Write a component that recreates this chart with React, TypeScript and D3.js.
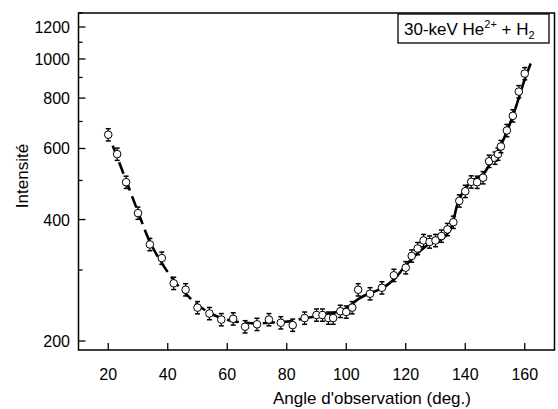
import React from "react";
import * as d3 from "d3";

// measured points (angle in deg., intensity)
const angles = [20, 23, 26, 30, 34, 38, 42, 46, 50, 54, 58, 62, 66, 70, 74, 78, 82, 86, 90, 92, 94, 95.6, 98, 100, 102, 104, 108, 112, 116, 120, 122, 124, 126, 128, 130, 132, 134, 136, 138, 140, 142, 144, 146, 148, 150, 151, 152, 154, 156, 158, 160];
const intensity = [649, 581, 495, 415, 347, 321, 278, 268, 242, 234, 226, 227, 217, 220, 226, 222, 219, 228, 232, 232, 228, 228, 237, 236, 242, 268, 262, 271, 291, 304, 325, 339, 355, 352, 355, 364, 378, 394, 445, 470, 496, 495, 508, 558, 568, 581, 607, 665, 723, 830, 920];
const relErr = 0.035;

// fitted curves
const dashX = [21.5, 26, 30, 34, 38, 42, 46, 50, 54, 58, 62, 66, 70, 74, 78, 82, 84];
const dashY = [610, 500, 418, 352, 312, 283, 262, 246, 235, 228, 224, 222, 221, 222, 223, 224, 226];
const solidX = [84, 88, 92, 96, 100, 104, 108, 112, 116, 120, 124, 128, 132, 135, 138, 142, 146, 148, 150, 152, 154, 156, 158, 160, 162];
const solidY = [226, 229, 232, 235, 241, 254, 263, 270, 284, 308, 330, 348, 357, 378, 450, 496, 518, 545, 575, 612, 662, 722, 800, 890, 975];

const yMajor = [200, 400, 600, 800, 1000, 1200];
const yMinor = [300, 500, 700, 900, 1100, 1300];
const xTicks = [20, 40, 60, 80, 100, 120, 140, 160];

const W = 558;
const H = 409;
const left = 78.5;
const right = 554.5;
const top = 13;
const bottom = 350;
const font = "'Liberation Sans', Arial, sans-serif";

export default function App() {
  const x = d3.scaleLinear().domain([10, 170]).range([left, right]);
  const y = d3.scaleLog().domain([190, 1300]).range([bottom, top]);

  const pts = angles.map((a, i) => ({ a, v: intensity[i] }));
  const line = d3
    .line<[number, number]>()
    .x((d) => x(d[0]))
    .y((d) => y(d[1]))
    .curve(d3.curveCatmullRom.alpha(0.5));
  const dashPath = line(dashX.map((v, i) => [v, dashY[i]]));
  const solidPath = line(solidX.map((v, i) => [v, solidY[i]]));

  return (
    <svg width={W} height={H} style={{ position: "absolute", left: 0, top: 0, background: "#fff" }}>
      <g fontFamily={font} fill="#000">
        {/* fit curves */}
        <path d={dashPath || ""} fill="none" stroke="#000" strokeWidth={2.6} strokeDasharray="12,6" />
        <path d={solidPath || ""} fill="none" stroke="#000" strokeWidth={2.6} />

        {/* points with error bars */}
        {pts.map((p, i) => {
          const cx = x(p.a);
          const y1 = y(p.v * (1 + relErr));
          const y2 = y(p.v * (1 - relErr));
          return (
            <g key={i}>
              <line x1={cx} x2={cx} y1={y1} y2={y2} stroke="#000" strokeWidth={1.2} />
              <line x1={cx - 2.5} x2={cx + 2.5} y1={y1} y2={y1} stroke="#000" strokeWidth={1.5} />
              <line x1={cx - 2.5} x2={cx + 2.5} y1={y2} y2={y2} stroke="#000" strokeWidth={1.5} />
              <circle cx={cx} cy={y(p.v)} r={3.8} fill="#fff" stroke="#000" strokeWidth={1} />
            </g>
          );
        })}

        {/* frame */}
        <rect x={left} y={top} width={right - left} height={bottom - top} fill="none" stroke="#000" strokeWidth={1.5} />

        {/* x ticks */}
        {xTicks.map((t) => (
          <g key={t}>
            <line x1={x(t)} x2={x(t)} y1={bottom} y2={bottom - 7} stroke="#000" strokeWidth={1.3} />
            <text x={x(t)} y={380} fontSize={16} textAnchor="middle">{t}</text>
          </g>
        ))}

        {/* y ticks */}
        {yMajor.map((t) => (
          <g key={t}>
            <line x1={left} x2={left + 7} y1={y(t)} y2={y(t)} stroke="#000" strokeWidth={1.3} />
            <text x={70} y={y(t) + 6} fontSize={16} textAnchor="end">{t}</text>
          </g>
        ))}
        {yMinor.map((t) => (
          <line key={t} x1={left} x2={left + 4} y1={y(t)} y2={y(t)} stroke="#000" strokeWidth={1.3} />
        ))}

        {/* axis titles */}
        <text x={372} y={404} fontSize={17} textAnchor="middle">Angle d'observation (deg.)</text>
        <text transform="translate(28,176) rotate(-90)" fontSize={17} textAnchor="middle">Intensité</text>

        {/* legend */}
        <rect x={398} y={14} width={151} height={29} fill="#fff" stroke="#000" strokeWidth={1.3} />
        <text x={404} y={35} fontSize={17}>
          30-keV He<tspan fontSize={11} dy={-7}>2+</tspan>
          <tspan dy={7}> + H</tspan>
          <tspan fontSize={11} dy={4}>2</tspan>
        </text>
      </g>
    </svg>
  );
}
